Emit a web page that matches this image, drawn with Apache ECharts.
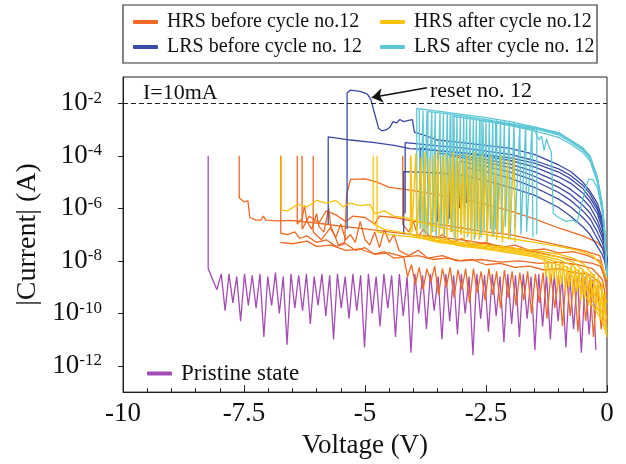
<!DOCTYPE html>
<html>
<head>
<meta charset="utf-8">
<script src="https://cdn.jsdelivr.net/npm/echarts@6/dist/echarts.min.js"></script>
<style>
  html, body { margin: 0; background: #fff; }
  #chart { width: 626px; height: 464px; }
</style>
</head>
<body>
<div id="chart"></div>
<script>
// every point is [voltage (V), log10 |current| (A)]
const FONT = 'Liberation Serif';

const NAMES = {
  hrsBefore: 'HRS before cycle no.12',
  lrsBefore: 'LRS before cycle no. 12',
  hrsAfter: 'HRS after cycle no.12',
  lrsAfter: 'LRS after cycle no. 12',
  pristine: 'Pristine state'
};
const COLORS = {
  hrsBefore: '#ef6a24',
  lrsBefore: '#3a49a6',
  hrsAfter: '#f9c20c',
  lrsAfter: '#5ec7d6',
  pristine: '#a44cb4'
};

const xTicks = [-10, -7.5, -5, -2.5, 0];
const yRange = [-13, -1];      // decades shown; labels land on even exponents
const complianceLogI = -2;     // I = 10 mA

const pristine = [
  [-8.24,-4.0],[-8.24,-8.3],[-8.06,-9.1],
  [-7.97,-8.5],[-7.89,-9.9],[-7.81,-8.5],[-7.73,-9.6],[-7.65,-8.6],[-7.57,-10.3],[-7.49,-8.5],[-7.41,-9.7],
  [-7.33,-8.55],[-7.25,-9.8],[-7.17,-8.5],[-7.09,-10.9],[-7.01,-8.6],[-6.93,-9.7],[-6.85,-8.45],[-6.77,-10.0],
  [-6.69,-8.6],[-6.61,-11.2],[-6.53,-8.5],[-6.45,-9.8],[-6.37,-8.55],[-6.29,-9.9],[-6.21,-8.5],[-6.13,-10.4],
  [-6.05,-8.6],[-5.97,-9.7],[-5.89,-8.5],[-5.81,-10.1],[-5.73,-8.55],[-5.65,-11.0],[-5.57,-8.5],[-5.49,-9.8],
  [-5.41,-8.6],[-5.33,-10.2],[-5.25,-8.5],[-5.17,-9.9],[-5.09,-8.55],[-5.01,-11.3],[-4.93,-8.5],[-4.85,-10.0],
  [-4.77,-8.6],[-4.69,-10.5],[-4.61,-8.5],[-4.53,-9.8],[-4.45,-8.55],[-4.37,-10.9],[-4.29,-8.5],[-4.21,-10.1],
  [-4.13,-8.6],[-4.05,-11.5],[-3.97,-8.5],[-3.89,-10.0],[-3.81,-8.55],[-3.73,-10.6],[-3.65,-8.5],[-3.57,-9.9],
  [-3.49,-8.6],[-3.41,-11.0],[-3.33,-8.5],[-3.25,-10.3],[-3.17,-8.55],[-3.09,-10.8],[-3.01,-8.5],[-2.93,-10.0],
  [-2.85,-8.6],[-2.77,-11.6],[-2.69,-8.5],[-2.61,-10.2],[-2.53,-8.55],[-2.45,-10.7],[-2.37,-8.5],[-2.29,-10.1],
  [-2.21,-8.6],[-2.13,-11.1],[-2.05,-8.5],[-1.97,-10.4],[-1.89,-8.55],[-1.81,-10.9],[-1.73,-8.5],[-1.65,-10.2],
  [-1.57,-8.6],[-1.49,-11.4],[-1.41,-8.5],[-1.33,-10.5],[-1.25,-8.55],[-1.17,-11.0],[-1.09,-8.5],[-1.01,-10.3],
  [-0.93,-8.6],[-0.85,-11.3],[-0.77,-8.55],[-0.69,-10.6],[-0.61,-8.6],[-0.53,-11.5],[-0.45,-8.6],[-0.37,-10.8],
  [-0.29,-8.7],[-0.23,-11.4]
];

const hrsBefore = [
  [[-7.6,-4.0],[-7.6,-5.6],[-7.5,-5.75],[-7.42,-5.72],[-7.38,-6.35],[-7.25,-6.45],[-7.15,-6.45],[-7.1,-6.3],
   [-7.05,-6.45],[-6.8,-6.48],[-6.55,-6.46],[-6.0,-6.56],[-5.5,-6.68],[-5.0,-6.78],[-4.5,-6.9],[-4.0,-7.0],
   [-3.5,-7.09],[-3.0,-7.2],[-2.5,-7.35],[-2.0,-7.5],[-1.5,-7.65],[-1.03,-7.84],[-0.6,-8.0],[-0.3,-8.1],
   [-0.14,-8.2],[-0.05,-8.6],[0,-9.3]],
  [[-6.74,-4.0],[-6.74,-6.95],[-6.6,-7.0],[-6.45,-6.9],[-6.35,-7.15],[-6.2,-7.05],[-6.0,-7.3],[-5.8,-7.2],
   [-5.6,-7.45],[-5.4,-7.35],[-5.2,-7.6],[-5.0,-7.5],[-4.8,-7.75],[-4.6,-7.65],[-4.4,-7.9],[-4.2,-7.85],
   [-4.12,-8.6],[-4.04,-8.15],[-3.96,-8.9],[-3.88,-8.25],[-3.8,-9.1],[-3.72,-8.3],[-3.64,-8.8],[-3.56,-8.2],
   [-3.48,-9.3],[-3.4,-8.3],[-3.32,-9.0],[-3.24,-8.25],[-3.16,-9.4],[-3.08,-8.35],[-3.0,-9.1],[-2.92,-8.3],
   [-2.84,-9.6],[-2.76,-8.3],[-2.68,-9.2],[-2.6,-8.4],[-2.52,-9.5],[-2.44,-8.3],[-2.36,-9.3],[-2.28,-8.4],
   [-2.2,-9.8],[-2.12,-8.35],[-2.04,-9.4],[-1.96,-8.4],[-1.88,-9.7],[-1.8,-8.45],[-1.72,-9.5],[-1.64,-8.4],
   [-1.56,-10.0],[-1.48,-8.5],[-1.4,-9.6],[-1.32,-8.45],[-1.24,-10.2],[-1.16,-8.5],[-1.08,-9.8],[-1.0,-8.55],
   [-0.92,-10.5],[-0.84,-8.5],[-0.76,-10.1],[-0.68,-8.6],[-0.6,-10.7],[-0.52,-8.6],[-0.44,-10.3],[-0.36,-8.7],
   [-0.28,-10.9],[-0.2,-8.9],[-0.12,-10.6],[-0.05,-9.2],[0,-10.4]],
  [[-6.4,-4.0],[-6.4,-6.6],[-6.3,-6.4],[-6.25,-5.9],[-6.2,-6.5],[-6.1,-6.8],[-6.0,-6.2],[-5.95,-6.7],
   [-5.85,-6.9],[-5.75,-6.0],[-5.7,-6.8],[-5.6,-7.1],[-5.5,-6.6],[-5.4,-7.2],[-5.3,-7.0],[-5.2,-7.3],
   [-5.1,-6.5],[-5.0,-7.2],[-4.9,-7.4],[-4.8,-6.9],[-4.7,-7.5],[-4.6,-6.8],[-4.5,-7.3],[-4.4,-7.0],
   [-4.3,-7.6],[-4.1,-7.8],[-3.9,-7.6],[-3.7,-7.9],[-3.4,-7.8],[-3.1,-8.0],[-2.8,-7.95],[-2.5,-8.15],
   [-2.2,-8.1],[-1.9,-8.25],[-1.6,-8.2],[-1.3,-8.35],[-1.0,-8.3],[-0.7,-8.45],[-0.4,-8.5],[-0.15,-8.8],[0,-10.0]],
  [[-6.07,-4.0],[-6.07,-6.9],[-5.9,-7.2],[-5.7,-6.7],[-5.55,-7.4],[-5.42,-7.3],[-5.38,-5.5],[-5.3,-4.9],
   [-5.0,-4.88],[-4.75,-5.0],[-4.5,-5.2],[-4.1,-5.3],[-3.6,-5.45],[-3.1,-5.6],[-2.5,-5.85],[-2.0,-6.1],
   [-1.5,-6.4],[-1.0,-6.75],[-0.5,-7.05],[-0.2,-7.3],[-0.05,-7.6],[0,-8.3]],
  [[-6.3,-4.0],[-6.3,-6.8],[-6.15,-6.3],[-5.95,-6.55],[-5.8,-6.1],[-5.6,-6.25],[-5.4,-6.5],[-5.25,-6.3],
   [-5.0,-6.35],[-4.8,-6.6],[-4.7,-6.3],[-4.4,-6.35],[-4.0,-6.5],[-3.5,-6.6],[-3.0,-6.75],[-2.5,-6.9],
   [-2.0,-7.0],[-1.5,-7.2],[-1.0,-7.4],[-0.5,-7.6],[-0.15,-7.8],[0,-8.8]],
  [[-6.75,-7.3],[-6.5,-7.35],[-6.2,-7.25],[-6.0,-7.45],[-5.7,-7.4],[-5.4,-7.6],[-5.1,-7.55],[-4.8,-7.75],
   [-4.5,-7.7],[-4.2,-7.85],[-3.9,-7.8],[-3.6,-7.95],[-3.3,-7.9],[-3.0,-8.0],[-2.6,-7.95],[-2.2,-8.05],
   [-1.8,-8.0],[-1.4,-8.1],[-1.0,-8.05],[-0.6,-8.15],[-0.3,-8.3],[-0.1,-8.7],[0,-9.6]],
  [[-4.22,-4.0],[-4.22,-6.6],[-4.1,-6.9],[-4.0,-6.5],[-3.9,-7.1],[-3.8,-6.8],[-3.6,-7.2],[-3.4,-7.0],
   [-3.2,-7.3],[-3.0,-7.15],[-2.8,-7.4],[-2.5,-7.3],[-2.2,-7.5],[-1.9,-7.4],[-1.6,-7.6],[-1.3,-7.55],
   [-1.0,-7.7],[-0.7,-7.65],[-0.4,-7.8],[-0.15,-8.0],[0,-9.0]]
];

const lrsBefore = [
  // reset no. 12
  [[-5.37,-6.8],[-5.37,-1.6],[-5.3,-1.5],[-5.1,-1.55],[-4.95,-1.65],[-4.88,-1.85],[-4.8,-2.4],[-4.72,-2.95],
   [-4.65,-3.05],[-4.55,-3.0],[-4.48,-2.9],[-4.42,-2.7],[-4.35,-2.75],[-4.28,-2.62],[-4.2,-2.7],[-4.1,-2.65],
   [-4.02,-2.62],[-3.98,-3.1],[-3.8,-3.2],[-3.5,-3.4],[-3.0,-3.5],[-2.5,-3.6],[-2.0,-3.72],[-1.5,-3.95],
   [-1.0,-4.35],[-0.75,-4.6],[-0.5,-5.0],[-0.35,-5.35],[-0.2,-5.8],[-0.1,-6.4],[-0.05,-7.0],[0,-8.0]],
  [[-5.76,-6.6],[-5.76,-3.28],[-5.3,-3.4],[-4.8,-3.5],[-4.4,-3.6],[-4.07,-3.73],[-3.5,-3.8],[-3.0,-3.88],
   [-2.5,-3.97],[-2.0,-4.08],[-1.5,-4.28],[-1.0,-4.62],[-0.75,-4.88],[-0.5,-5.25],[-0.35,-5.6],[-0.2,-6.05],
   [-0.1,-6.6],[-0.05,-7.1],[0,-8.0]],
  [[-4.17,-6.2],[-4.17,-3.5],[-3.9,-3.55],[-3.5,-3.62],[-3.0,-3.7],[-2.5,-3.82],[-2.0,-3.95],[-1.5,-4.18],
   [-1.0,-4.5],[-0.75,-4.75],[-0.5,-5.12],[-0.35,-5.45],[-0.2,-5.95],[-0.1,-6.5],[-0.05,-7.05],[0,-8.0]],
  [[-3.86,-6.45],[-3.86,-3.7],[-3.5,-3.8],[-3.0,-3.9],[-2.5,-4.02],[-2.0,-4.18],[-1.5,-4.42],[-1.0,-4.8],
   [-0.75,-5.05],[-0.5,-5.42],[-0.35,-5.75],[-0.2,-6.2],[-0.1,-6.75],[-0.05,-7.2],[0,-8.1]],
  [[-3.5,-6.5],[-3.5,-3.9],[-3.0,-4.0],[-2.5,-4.15],[-2.0,-4.32],[-1.5,-4.6],[-1.0,-5.0],[-0.75,-5.28],
   [-0.5,-5.65],[-0.35,-5.95],[-0.2,-6.45],[-0.1,-6.95],[-0.05,-7.35],[0,-8.1]],
  [[-3.25,-6.4],[-3.25,-4.0],[-3.0,-4.08],[-2.5,-4.25],[-2.0,-4.45],[-1.5,-4.78],[-1.0,-5.2],[-0.75,-5.48],
   [-0.5,-5.88],[-0.35,-6.18],[-0.2,-6.65],[-0.1,-7.1],[-0.05,-7.45],[0,-8.2]],
  [[-3.05,-6.0],[-3.05,-4.2],[-2.5,-4.4],[-2.0,-4.62],[-1.5,-4.95],[-1.0,-5.4],[-0.75,-5.7],[-0.5,-6.1],
   [-0.35,-6.4],[-0.2,-6.9],[-0.1,-7.3],[-0.05,-7.6],[0,-8.3]],
  [[-2.9,-5.8],[-2.9,-4.45],[-2.5,-4.6],[-2.0,-4.85],[-1.5,-5.2],[-1.0,-5.65],[-0.75,-5.95],[-0.5,-6.35],
   [-0.35,-6.65],[-0.2,-7.15],[-0.1,-7.5],[-0.05,-7.8],[0,-8.4]],
  [[-4.2,-7.0],[-4.2,-4.6],[-3.5,-4.65],[-3.0,-4.75],[-2.5,-4.95],[-2.0,-5.2],[-1.5,-5.5],[-1.0,-5.97],
   [-0.75,-6.3],[-0.5,-6.7],[-0.35,-7.0],[-0.2,-7.45],[-0.1,-7.75],[-0.05,-8.0],[0,-8.5]]
];

const lrsAfter = [
  [[-3.93,-6.8],[-3.93,-2.2],[-3.5,-2.3],[-3.0,-2.42],[-2.5,-2.55],[-2.0,-2.7],[-1.5,-2.9],[-1.0,-3.12],
   [-0.75,-3.4],[-0.5,-3.7],[-0.35,-4.0],[-0.2,-4.8],[-0.1,-5.8],[-0.05,-6.8],[0,-8.5]],
  [[-3.7,-7.0],[-3.7,-2.32],[-3.5,-2.36],[-3.0,-2.48],[-2.5,-2.62],[-2.0,-2.78],[-1.5,-2.97],[-1.0,-3.2],
   [-0.75,-3.47],[-0.5,-3.78],[-0.35,-4.1],[-0.2,-4.9],[-0.1,-5.9],[-0.05,-6.9],[0,-8.5]],
  [[-3.2,-6.9],[-3.2,-2.5],[-3.0,-2.55],[-2.5,-2.68],[-2.0,-2.85],[-1.5,-3.05],[-1.0,-3.3],[-0.75,-3.55],
   [-0.5,-3.87],[-0.35,-4.2],[-0.2,-5.0],[-0.1,-6.0],[-0.05,-7.0],[0,-8.6]],
  [[-2.6,-7.1],[-2.6,-2.65],[-2.0,-2.82],[-1.5,-3.0],[-1.4,-3.4],[-1.35,-3.25],[-1.3,-3.8],[-1.25,-3.35],
   [-1.2,-3.65],[-1.15,-3.85],[-1.13,-5.0],[-1.11,-6.2],[-1.0,-6.35],[-0.85,-6.5],[-0.7,-6.45],[-0.62,-6.55],
   [-0.55,-6.0],[-0.45,-5.3],[-0.38,-4.9],[-0.3,-4.9],[-0.2,-5.2],[-0.1,-6.1],[-0.05,-7.0],[0,-8.6]],
  [[-2.3,-6.8],[-2.3,-2.72],[-2.0,-2.8],[-1.5,-2.93],[-1.0,-3.15],[-0.75,-3.42],[-0.5,-3.72],[-0.35,-4.05],
   [-0.2,-4.85],[-0.1,-5.85],[-0.05,-6.85],[0,-8.5]],
  [[-1.45,-7.0],[-1.45,-2.95],[-1.0,-3.17],[-0.75,-3.44],[-0.5,-3.75],[-0.35,-4.08],[-0.2,-4.88],[-0.1,-5.88],
   [-0.05,-6.9],[0,-8.55]]
];

// reset drops of the later LRS cycles
const lrsAfterResets = [
  [-3.88,-2.26],[-3.86,-6.8],[-3.8,-2.28],[-3.78,-7.0],[-3.72,-2.3],[-3.7,-6.7],[-3.62,-2.33],[-3.6,-6.9],
  [-3.55,-2.34],[-3.53,-7.1],[-3.45,-2.36],[-3.43,-6.8],[-3.38,-2.38],[-3.36,-7.0],[-3.3,-2.4],[-3.28,-6.6],
  [-3.24,-2.41],[-3.22,-6.9],[-3.16,-2.43],[-3.14,-7.2],[-3.1,-2.44],[-3.08,-6.8],[-3.03,-2.46],[-3.01,-7.0],
  [-2.96,-2.47],[-2.94,-6.7],[-2.9,-2.49],[-2.88,-7.1],[-2.83,-2.5],[-2.81,-6.9],[-2.76,-2.52],[-2.74,-7.2],
  [-2.7,-2.53],[-2.68,-6.8],[-2.63,-2.55],[-2.61,-7.0],[-2.56,-2.57],[-2.54,-6.9],[-2.5,-2.58],[-2.48,-7.3],
  [-2.43,-2.6],[-2.41,-6.8],[-2.36,-2.62],[-2.34,-7.1],[-2.28,-2.64],[-2.26,-6.9],[-2.2,-2.66],[-2.18,-7.0],
  [-2.12,-2.68],[-2.1,-6.7],[-2.02,-2.71],[-2.0,-7.1],[-1.92,-2.74],[-1.9,-6.8],[-1.8,-2.78],[-1.78,-7.0],
  [-1.68,-2.82],[-1.66,-6.9],[-1.55,-2.87],[-1.53,-7.1]
];

const hrsAfter = [
  [[-6.73,-4.0],[-6.73,-6.07],[-6.6,-6.1],[-6.4,-5.85],[-6.2,-5.95],[-6.0,-5.7],[-5.8,-5.8],[-5.6,-5.7],
   [-5.45,-5.95],[-5.3,-5.8],[-5.1,-5.9],[-4.9,-5.85],[-4.8,-6.2],[-4.6,-6.1],[-4.4,-6.3],[-4.2,-6.35],
   [-4.0,-6.45],[-3.5,-6.7],[-3.0,-6.9],[-2.5,-7.0],[-2.0,-7.15],[-1.5,-7.3],[-1.0,-7.45],[-0.6,-7.6],
   [-0.3,-7.8],[-0.1,-8.2],[0,-8.7]],
  [[-4.83,-4.0],[-4.83,-6.6],[-4.6,-6.8],[-4.3,-6.9],[-4.0,-7.0],[-3.5,-7.15],[-3.0,-7.3],[-2.5,-7.4],
   [-2.0,-7.5],[-1.5,-7.6],[-1.0,-7.75],[-0.7,-7.9],[-0.5,-8.1],[-0.3,-8.5],[-0.15,-9.0],[0,-9.6]],
  [[-4.75,-4.0],[-4.75,-6.9],[-4.5,-7.0],[-4.0,-7.1],[-3.5,-7.25],[-3.0,-7.35],[-2.5,-7.45],[-2.0,-7.55],
   [-1.5,-7.7],[-1.0,-7.85],[-0.7,-8.05],[-0.5,-8.35],[-0.3,-8.8],[-0.15,-9.4],[0,-10.2]],
  [[-4.06,-4.0],[-4.06,-7.0],[-3.5,-7.3],[-3.0,-7.4],[-2.5,-7.5],[-2.0,-7.6],[-1.5,-7.75],[-1.0,-7.95],
   [-0.7,-8.2],[-0.5,-8.6],[-0.3,-9.1],[-0.15,-9.7],[0,-10.6]],
  [[-3.8,-7.1],[-3.0,-7.45],[-2.0,-7.65],[-1.5,-7.8],[-1.0,-8.05],[-0.7,-8.4],[-0.5,-8.9],[-0.3,-9.4],
   [-0.15,-10.0],[0,-10.9]],
  [[-3.5,-7.2],[-2.5,-7.55],[-1.5,-7.85],[-1.0,-8.15],[-0.7,-8.6],[-0.5,-9.2],[-0.3,-9.7],[-0.1,-10.3],[0,-10.6]],
  [[-1.3,-7.9],[-1.26,-8.6],[-1.22,-8.0],[-1.18,-8.8],[-1.14,-8.05],[-1.1,-8.7],[-1.06,-8.1],[-1.02,-9.0],
   [-0.98,-8.1],[-0.94,-8.9],[-0.9,-8.15],[-0.86,-9.1],[-0.82,-8.2],[-0.78,-9.0],[-0.74,-8.2],[-0.7,-9.3],
   [-0.66,-8.25],[-0.62,-9.2],[-0.58,-8.3],[-0.54,-9.5],[-0.5,-8.3],[-0.46,-9.4],[-0.42,-8.4],[-0.38,-9.7],
   [-0.34,-8.45],[-0.3,-9.6],[-0.26,-8.5],[-0.22,-9.9],[-0.18,-8.6],[-0.14,-10.1],[-0.1,-8.8],[-0.07,-10.3],
   [-0.04,-9.2],[-0.02,-10.6],[0,-10.8]]
];

// start spikes of the later HRS sweeps
const hrsAfterSpikes = [
  [-4.05,-4.0],[-4.03,-6.9],[-3.95,-3.9],[-3.93,-7.1],[-3.84,-4.05],[-3.82,-6.8],[-3.76,-3.85],[-3.74,-7.0],
  [-3.66,-4.1],[-3.64,-7.2],[-3.57,-3.95],[-3.55,-6.9],[-3.49,-3.8],[-3.47,-7.1],[-3.4,-4.0],[-3.38,-7.0],
  [-3.33,-3.9],[-3.31,-7.2],[-3.25,-4.05],[-3.23,-6.9],[-3.18,-3.85],[-3.16,-7.1],[-3.11,-4.0],[-3.09,-7.3],
  [-3.04,-3.95],[-3.02,-7.0],[-2.97,-4.1],[-2.95,-7.2],[-2.89,-3.9],[-2.87,-7.0],[-2.82,-4.0],[-2.8,-7.3],
  [-2.74,-3.85],[-2.72,-7.1],[-2.66,-4.05],[-2.64,-7.2],[-2.58,-3.95],[-2.56,-7.0],[-2.5,-4.1],[-2.48,-7.3],
  [-2.4,-4.0],[-2.38,-7.1],[-2.3,-4.2],[-2.28,-7.2],[-2.18,-4.0],[-2.16,-7.3],[-2.05,-4.15],[-2.03,-7.2],
  [-1.92,-4.1],[-1.9,-7.3]
];

function curve(name, color, pts, extra) {
  return Object.assign({
    name: name,
    type: 'line',
    data: pts,
    symbol: 'none',
    showSymbol: false,
    silent: true,
    animation: false,
    lineStyle: { color: color, width: 1.3 },
    itemStyle: { color: color },
    emphasis: { disabled: true }
  }, extra || {});
}

const series = [];
series.push(curve(NAMES.pristine, COLORS.pristine, pristine, {
  markLine: {
    silent: true,
    symbol: 'none',
    label: { show: false },
    lineStyle: { color: '#222', type: [5, 3], width: 1 },
    data: [{ yAxis: complianceLogI }]
  }
}));
hrsBefore.forEach(c => series.push(curve(NAMES.hrsBefore, COLORS.hrsBefore, c)));
lrsBefore.forEach((c, i) => series.push(curve(NAMES.lrsBefore, COLORS.lrsBefore, c, i === 0 ? {
  markLine: {
    silent: true,
    symbol: ['none', 'arrow'],
    symbolSize: 11,
    label: { show: false },
    lineStyle: { color: '#111', type: 'solid', width: 1.6 },
    data: [[{ coord: [-3.72, -1.41] }, { coord: [-4.86, -1.78] }]]
  }
} : null)));
lrsAfter.forEach(c => series.push(curve(NAMES.lrsAfter, COLORS.lrsAfter, c)));
series.push(curve(NAMES.lrsAfter, COLORS.lrsAfter, lrsAfterResets));
hrsAfter.forEach(c => series.push(curve(NAMES.hrsAfter, COLORS.hrsAfter, c)));
series.push(curve(NAMES.hrsAfter, COLORS.hrsAfter, hrsAfterSpikes));

const legendBase = {
  orient: 'vertical',
  padding: 0,
  itemGap: 5,
  itemWidth: 25,
  itemHeight: 4,
  icon: 'roundRect',
  selectedMode: false,
  textStyle: { fontFamily: FONT, fontSize: 20, color: '#111', padding: [0, 0, 0, 4] }
};

const chart = echarts.init(document.getElementById('chart'), null, { renderer: 'canvas' });
chart.setOption({
  animation: false,
  textStyle: { fontFamily: FONT },
  grid: { left: 123, right: 19, top: 77, bottom: 66, show: true, borderColor: '#222', borderWidth: 1 },
  legend: [
    Object.assign({}, legendBase, { left: 133, top: 12, data: [NAMES.hrsBefore, NAMES.lrsBefore] }),
    Object.assign({}, legendBase, { left: 380, top: 12, data: [NAMES.hrsAfter, NAMES.lrsAfter] }),
    Object.assign({}, legendBase, { left: 147, top: 362, data: [NAMES.pristine],
      textStyle: { fontFamily: FONT, fontSize: 23, color: '#111', padding: [0, 0, 0, 4] } })
  ],
  graphic: [
    { type: 'rect', shape: { x: 123, y: 5, width: 474, height: 58 },
      style: { fill: 'none', stroke: '#333', lineWidth: 1.2 }, silent: true },
    { type: 'text', x: 143, y: 93, silent: true,
      style: { text: 'I=10mA', font: '22px "Liberation Serif"', fill: '#111', verticalAlign: 'middle' } },
    { type: 'text', x: 430, y: 91, silent: true,
      style: { text: 'reset no. 12', font: '22px "Liberation Serif"', fill: '#111', verticalAlign: 'middle' } }
  ],
  xAxis: {
    type: 'value',
    min: xTicks[0],
    max: xTicks[xTicks.length - 1],
    interval: 2.5,
    name: 'Voltage (V)',
    nameLocation: 'middle',
    nameGap: 36,
    nameTextStyle: { fontFamily: FONT, fontSize: 27, color: '#111' },
    axisLine: { onZero: false, lineStyle: { color: '#222', width: 1 } },
    axisTick: { inside: true, length: 7, lineStyle: { color: '#222' } },
    minorTick: { show: true, splitNumber: 5, length: 4, lineStyle: { color: '#222' } },
    splitLine: { show: false },
    axisLabel: { fontFamily: FONT, fontSize: 27, color: '#111', margin: 8, formatter: v => String(v) }
  },
  yAxis: {
    type: 'value',
    min: yRange[0],
    max: yRange[1],
    name: '|Current| (A)',
    nameLocation: 'middle',
    nameGap: 80,
    nameTextStyle: { fontFamily: FONT, fontSize: 28, color: '#111' },
    axisLine: { onZero: false, lineStyle: { color: '#222', width: 1 } },
    axisTick: { inside: false, length: 5, lineStyle: { color: '#222' } },
    splitLine: { show: false },
    axisLabel: {
      showMinLabel: false,
      showMaxLabel: false,
      margin: 21,
      color: '#111',
      formatter: v => '{b|10}{s|' + v + '}',
      rich: {
        b: { fontFamily: FONT, fontSize: 27, color: '#111' },
        s: { fontFamily: FONT, fontSize: 17, color: '#111', verticalAlign: 'top' }
      }
    }
  },
  series: series
});
</script>
</body>
</html>
